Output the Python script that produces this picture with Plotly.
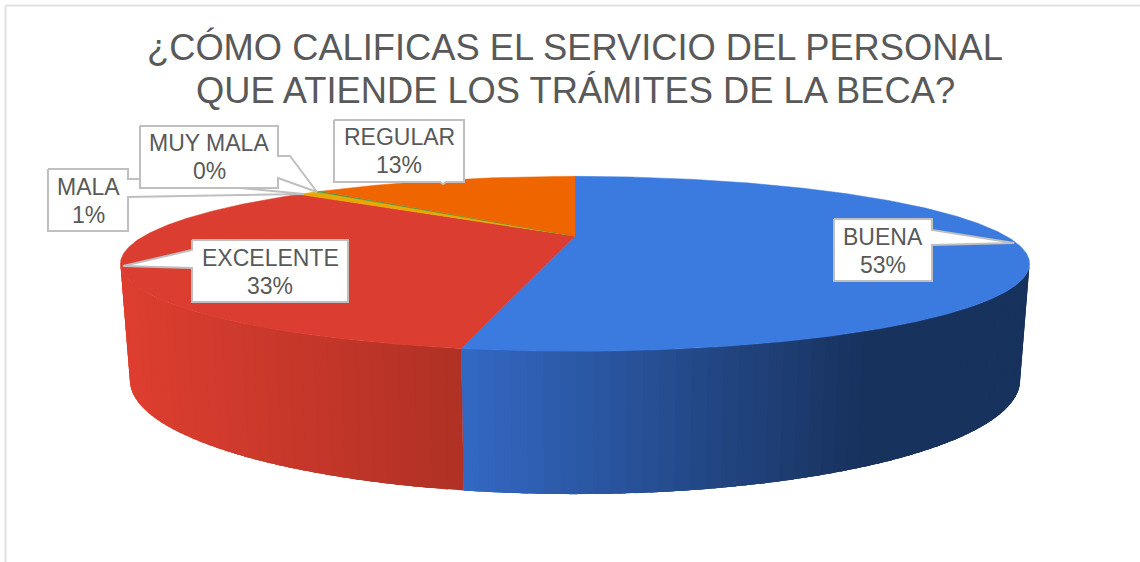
import math
import plotly.graph_objects as go

# ---- data ----
TITLE_LINES = ["¿CÓMO CALIFICAS EL SERVICIO DEL PERSONAL", "QUE ATIENDE LOS TRÁMITES DE LA BECA?"]
CATEGORIES = ["BUENA", "EXCELENTE", "MALA", "MUY MALA", "REGULAR"]
VALUES = [52.9, 33.1, 1, 0.2, 12.8]

# ---- style ----
TOP_COLORS = ["#3b7be0", "#db3e30", "#e9a800", "#2f9e50", "#ef6500"]
TEXT = "#595959"
EDGE = "#bfbfbf"
FONT = "Liberation Sans, Arial, sans-serif"
W, H = 1140, 562

# perspective parameters of the top and bottom discs (paper pixels)
K = 0.318
TOP = dict(cx=575, cy=236, A=431, B=78.6)
BOTTOM = dict(cx=575, cy=344, A=422, B=102.4)


def project(disc, deg):
    t = math.radians(deg)
    X, Y = math.sin(t), math.cos(t)
    w = 1 + K * Y
    return disc["cx"] + disc["A"] * X / w, disc["cy"] - disc["B"] * Y / w


def mix(c1, c2, f):
    return "rgb(%d,%d,%d)" % tuple(round(a + (b - a) * f) for a, b in zip(c1, c2))


def side_color(cat, x):
    if cat == "BUENA":
        f = min(max((x - 460) / (860 - 460), 0), 1)
        return mix((52, 105, 197), (24, 50, 94), f)
    f = min(max((x - 130) / (460 - 130), 0), 1)
    return mix((221, 62, 47), (176, 49, 37), f)


total = sum(VALUES)
bounds = [0]
for v in VALUES:
    bounds.append(bounds[-1] + v / total * 360)

fig = go.Figure()


def poly(xs, ys, fill, line=None, lw=1):
    fig.add_trace(go.Scatter(
        x=xs, y=ys, mode="lines", fill="toself", fillcolor=fill,
        line=dict(color=line or fill, width=lw), hoverinfo="skip", showlegend=False))


# front wall: each strip runs on to the end of its slice and the next one paints
# over it, so no antialiasing seams show between neighbours
FRONT_FROM = math.degrees(math.acos(-K))
FRONT_TO = 360 - FRONT_FROM
STRIP = 1.5
order = [CATEGORIES.index("BUENA"), CATEGORIES.index("EXCELENTE")]
for i in order:
    cat = CATEGORIES[i]
    a0, a1 = max(bounds[i], FRONT_FROM), min(bounds[i + 1], FRONT_TO)
    n = max(1, int((a1 - a0) / STRIP))
    for j in range(n):
        s0 = a0 + (a1 - a0) * j / n
        s1 = a0 + (a1 - a0) * (j + 1) / n
        se = min(s1 + 2.5 * STRIP, a1)
        steps = [s0, s1, se] if se > s1 else [s0, s1]
        top = [project(TOP, s) for s in steps]
        bot = [project(BOTTOM, s) for s in reversed(steps)]
        p = top + bot
        xs = [q[0] for q in p] + [p[0][0]]
        ys = [q[1] for q in p] + [p[0][1]]
        xmid = (project(TOP, (s0 + s1) / 2)[0] + project(BOTTOM, (s0 + s1) / 2)[0]) / 2
        poly(xs, ys, side_color(cat, xmid), lw=0)

# top face
for i, cat in enumerate(CATEGORIES):
    n = max(2, int((bounds[i + 1] - bounds[i]) * 2))
    arc = [project(TOP, bounds[i] + (bounds[i + 1] - bounds[i]) * j / n) for j in range(n + 1)]
    xs = [TOP["cx"]] + [q[0] for q in arc] + [TOP["cx"]]
    ys = [TOP["cy"]] + [q[1] for q in arc] + [TOP["cy"]]
    poly(xs, ys, TOP_COLORS[i], lw=0.5)

# callout outlines (box corners with the pointer spliced in), drawing order matters
CALLOUTS = {
    "MALA": [(48, 169), (128, 169), (128, 179), (145, 179), (304, 194), (128, 197), (128, 231), (48, 231)],
    "MUY MALA": [(140, 126), (278, 126), (278, 156), (290, 156), (317, 192), (278, 178), (278, 188), (140, 188)],
    "REGULAR": [(334, 120), (464, 120), (464, 182), (446, 182), (443, 184), (440, 182), (334, 182)],
    "EXCELENTE": [(192, 240), (348, 240), (348, 302), (192, 302), (192, 268), (123, 266), (192, 250)],
    "BUENA": [(834, 219), (932, 219), (932, 230), (1014, 243), (932, 245), (932, 281), (834, 281)],
}
LABEL_CENTERS = {
    "MALA": (88, 187, 215),
    "MUY MALA": (209, 143, 171),
    "REGULAR": (399, 137, 165),
    "EXCELENTE": (270, 258, 286),
    "BUENA": (883, 237, 265),
}
annotations = []
for cat in ["MALA", "MUY MALA", "REGULAR", "EXCELENTE", "BUENA"]:
    pts = CALLOUTS[cat]
    poly([q[0] for q in pts] + [pts[0][0]], [q[1] for q in pts] + [pts[0][1]], "#ffffff", EDGE, 2)
    cx, y1, y2 = LABEL_CENTERS[cat]
    pct = f"{round(VALUES[CATEGORIES.index(cat)])}%"
    for txt, yy in ((cat, y1), (pct, y2)):
        annotations.append(dict(x=cx, y=yy, text=txt, showarrow=False, xanchor="center", yanchor="middle",
                                font=dict(family=FONT, size=23, color=TEXT)))

for txt, yy in zip(TITLE_LINES, (47, 90)):
    annotations.append(dict(x=575, y=yy, text=txt, showarrow=False, xanchor="center", yanchor="middle",
                            font=dict(family=FONT, size=36.3, color=TEXT)))

fig.update_layout(
    width=W, height=H, autosize=False,
    margin=dict(l=0, r=0, t=0, b=0),
    paper_bgcolor="white", plot_bgcolor="white",
    xaxis=dict(range=[0, W], visible=False, fixedrange=True),
    yaxis=dict(range=[H, 0], visible=False, fixedrange=True),
    showlegend=False,
    annotations=annotations,
    shapes=[
        dict(type="line", x0=5.5, x1=5.5, y0=5.5, y1=H, line=dict(color="#e2e2e2", width=2)),
        dict(type="line", x0=5.5, x1=W, y0=5.5, y1=5.5, line=dict(color="#e2e2e2", width=2)),
    ],
)

fig.write_html("out.html", config={"displayModeBar": False},
               post_script="document.body.style.margin='0';")
